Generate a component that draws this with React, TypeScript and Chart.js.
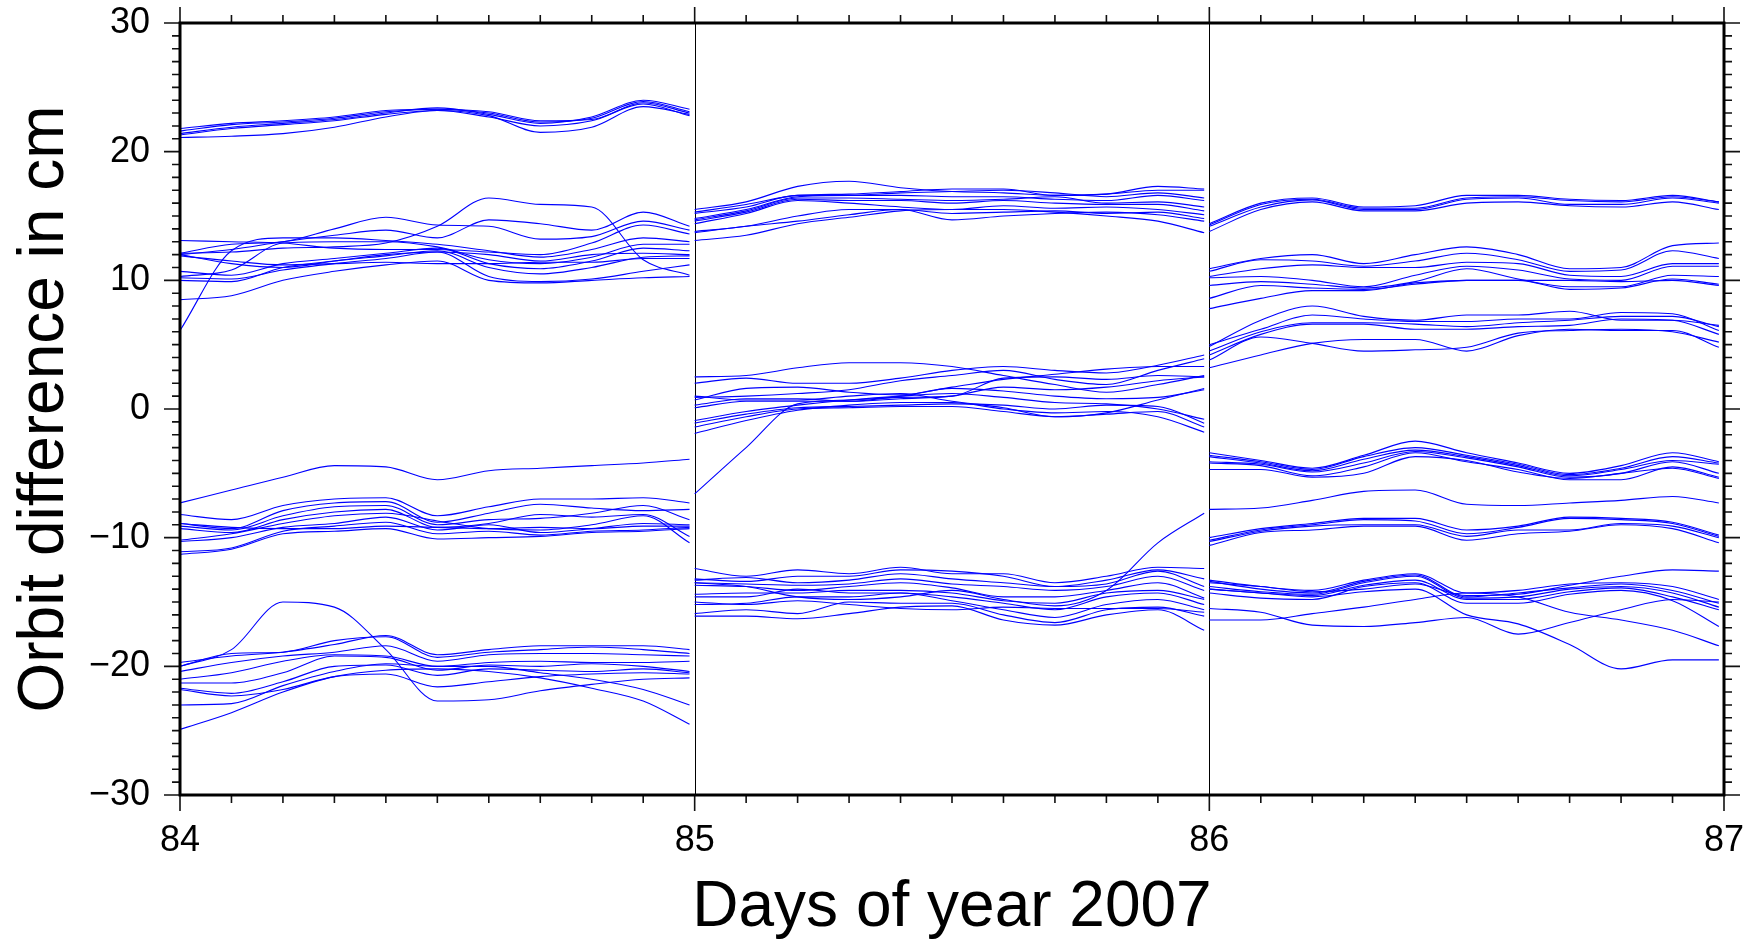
import React, { useEffect, useRef } from 'react';
import { Chart, registerables } from 'chart.js';

Chart.register(...registerables);

// ---- axis definitions ----
const xMin = 84;
const xMax = 87;
const yMin = -30;
const yMax = 30;
const xAxisTitle = 'Days of year 2007';
const yAxisTitle = 'Orbit difference in cm';
const dayBoundaries = [85, 86];

// sample positions (fraction of the day) of every arc value below
const sampleOffsets = [0, 0.1, 0.2, 0.3, 0.4, 0.5, 0.6, 0.7, 0.8, 0.9, 0.99];

// ---- day 84 arcs ----
const day84Near22 = [
  [21.6, 22.1, 22.3, 22.6, 23.1, 23.3, 23.0, 22.3, 22.6, 23.9, 23.1],
  [21.8, 22.2, 22.4, 22.7, 23.2, 23.3, 23.1, 22.4, 22.5, 23.8, 23.0],
  [21.4, 21.9, 22.2, 22.5, 23.0, 23.4, 22.9, 22.2, 22.7, 24.0, 23.3],
  [21.3, 21.8, 22.1, 22.4, 22.9, 23.2, 22.7, 22.0, 22.4, 23.7, 22.8],
  [21.1, 21.2, 21.4, 21.9, 22.7, 23.2, 22.8, 21.5, 21.9, 23.5, 22.9],
];
const day84Near12 = [
  [12.1, 12.2, 12.5, 12.6, 12.9, 14.2, 16.4, 15.9, 15.7, 11.6, 10.4],
  [6.1, 12.3, 13.3, 13.3, 13.1, 12.8, 12.3, 11.8, 12.4, 13.3, 13.0],
  [8.5, 8.8, 10.0, 10.7, 11.2, 11.5, 10.0, 9.8, 10.0, 10.2, 10.3],
  [10.2, 10.1, 10.8, 11.3, 11.7, 12.2, 10.3, 9.9, 10.1, 10.7, 11.2],
  [13.1, 13.0, 12.9, 12.5, 12.4, 12.4, 12.2, 12.0, 12.9, 14.3, 13.6],
  [12.0, 12.4, 13.0, 13.5, 13.9, 13.3, 14.7, 14.4, 13.9, 15.3, 14.2],
  [12.1, 12.8, 13.0, 14.0, 14.9, 14.3, 14.2, 13.2, 13.4, 14.6, 13.9],
  [10.3, 10.8, 12.9, 13.0, 13.0, 12.6, 11.6, 11.3, 11.8, 12.8, 12.8],
  [10.7, 10.4, 11.3, 11.7, 12.1, 12.5, 11.3, 10.9, 11.5, 12.5, 12.3],
  [10.0, 9.9, 11.0, 11.5, 11.9, 12.3, 11.0, 10.5, 11.0, 11.8, 11.9],
  [12.0, 11.3, 11.0, 11.5, 12.0, 12.2, 12.0, 11.5, 12.0, 12.1, 12.0],
  [11.9, 11.5, 11.2, 11.3, 11.4, 11.3, 11.3, 11.4, 11.4, 11.7, 11.7],
];
const day84Near5 = [
  [-7.3, -6.3, -5.3, -4.4, -4.5, -5.5, -4.8, -4.6, -4.4, -4.2, -3.9],
];
const day84Near9 = [
  [-8.2, -8.6, -7.5, -7.0, -6.9, -8.3, -7.6, -7.0, -7.0, -6.9, -7.3],
  [-8.9, -9.3, -7.9, -7.3, -7.2, -8.8, -8.1, -7.4, -7.7, -7.9, -7.8],
  [-9.1, -9.4, -8.3, -7.6, -7.5, -9.0, -8.6, -8.5, -8.1, -7.5, -8.6],
  [-9.3, -9.6, -8.6, -8.0, -7.8, -9.2, -8.9, -8.2, -8.4, -8.2, -9.9],
  [-10.2, -9.7, -8.9, -8.3, -8.1, -8.7, -9.3, -9.4, -9.0, -8.3, -10.4],
  [-10.3, -10.0, -9.2, -8.9, -8.4, -9.4, -9.0, -9.6, -9.3, -8.9, -9.0],
  [-11.1, -10.8, -9.5, -9.1, -8.8, -9.7, -9.5, -9.8, -9.5, -9.4, -9.2],
  [-11.3, -10.9, -9.7, -9.5, -9.3, -10.1, -10.0, -9.9, -9.6, -9.5, -9.3],
  [-8.9, -9.2, -9.3, -9.3, -9.1, -9.2, -9.3, -9.2, -9.3, -9.1, -9.1],
];
const day84Near20 = [
  [-20.0, -18.7, -15.0, -15.4, -18.7, -22.7, -22.6, -21.9, -21.4, -21.0, -20.9],
  [-24.9, -23.6, -22.0, -20.8, -20.3, -20.2, -20.4, -20.9, -21.7, -22.7, -24.5],
  [-23.0, -22.9, -21.5, -20.4, -19.8, -20.0, -20.0, -20.5, -21.0, -21.8, -23.0],
  [-19.7, -19.2, -18.9, -18.3, -17.6, -19.1, -18.7, -18.4, -18.4, -18.4, -18.7],
  [-20.0, -19.0, -18.9, -18.0, -17.7, -19.3, -18.9, -18.7, -18.5, -18.7, -19.0],
  [-20.4, -19.7, -19.2, -18.9, -18.4, -19.6, -19.1, -19.0, -19.0, -19.1, -19.2],
  [-21.0, -20.5, -19.6, -19.1, -19.2, -20.0, -19.7, -19.6, -19.7, -19.7, -19.6],
  [-21.3, -21.3, -20.5, -19.2, -19.3, -20.3, -19.9, -20.0, -19.8, -20.0, -20.4],
  [-21.7, -22.1, -21.2, -20.0, -19.9, -20.7, -20.2, -20.3, -20.4, -20.2, -20.5],
  [-21.8, -22.3, -21.8, -20.8, -20.6, -21.6, -21.2, -20.8, -20.6, -20.5, -20.6],
];

// ---- day 85 arcs ----
const day85Near16 = [
  [15.5, 16.1, 17.3, 17.7, 17.2, 16.9, 16.8, 16.6, 16.7, 17.3, 17.1],
  [15.3, 15.9, 16.6, 16.7, 16.9, 17.1, 17.1, 16.6, 16.7, 17.0, 17.0],
  [15.2, 15.7, 16.6, 16.6, 16.8, 16.9, 17.0, 16.8, 16.5, 16.8, 16.4],
  [14.8, 15.5, 16.5, 16.6, 16.6, 16.5, 16.5, 16.3, 16.2, 16.6, 16.2],
  [14.7, 15.4, 16.4, 16.4, 16.3, 16.2, 16.3, 16.5, 16.0, 16.1, 15.7],
  [14.6, 15.3, 16.3, 16.2, 16.2, 16.0, 16.2, 16.0, 15.9, 15.9, 15.4],
  [14.4, 15.2, 16.2, 16.0, 15.7, 15.5, 15.8, 15.6, 15.7, 15.5, 15.1],
  [13.8, 14.2, 15.0, 15.5, 15.5, 15.2, 15.3, 15.4, 15.2, 15.3, 14.8],
  [13.7, 14.2, 14.6, 15.1, 15.5, 14.7, 15.0, 15.2, 15.3, 15.1, 14.6],
  [13.1, 13.5, 14.4, 14.9, 15.4, 15.5, 15.5, 15.3, 15.0, 14.6, 13.7],
];
const day85Near1 = [
  [-6.6, -3.0, 0.4, 0.7, 0.9, 1.0, 2.4, 2.5, 2.3, 2.6, 2.5],
  [2.5, 2.6, 3.2, 3.6, 3.6, 3.3, 2.6, 1.9, 1.3, 1.9, 2.6],
  [2.0, 2.4, 2.0, 2.0, 2.4, 3.0, 3.3, 3.0, 2.8, 3.4, 4.2],
  [0.9, 1.0, 1.2, 1.5, 2.2, 2.6, 3.0, 2.3, 1.9, 3.0, 3.9],
  [0.7, 1.6, 1.7, 1.3, 1.1, 1.7, 2.3, 2.7, 3.1, 3.3, 3.3],
  [0.3, 0.8, 0.8, 0.6, 0.8, 1.0, 1.7, 1.5, 1.7, 2.2, 2.5],
  [0.1, 0.6, 0.6, 0.6, 1.0, 1.6, 1.4, 1.0, 0.8, 0.9, 1.5],
  [-0.9, -0.2, 0.3, 0.7, 1.0, 1.2, 0.9, 0.5, 0.4, 0.0, -0.8],
  [-1.1, -0.4, 0.1, 0.2, 0.3, 0.4, 0.3, 0.0, 0.3, 0.2, -1.1],
  [-1.4, -0.6, 0.0, 0.1, 0.2, 0.2, -0.2, -0.6, -0.4, -0.2, -1.4],
  [-1.9, -0.9, -0.1, 0.3, 0.5, 0.5, 0.0, -0.3, -0.2, -0.6, -1.8],
  [1.0, 0.7, 0.7, 1.0, 1.2, 0.6, 0.1, -0.6, -0.3, 0.7, 1.6],
];
const day85Near14 = [
  [-13.5, -13.8, -14.6, -14.8, -14.6, -14.1, -14.8, -15.3, -14.1, -10.4, -8.1],
  [-12.4, -13.0, -12.5, -12.8, -12.3, -12.8, -12.8, -13.5, -13.0, -12.3, -12.4],
  [-13.2, -13.4, -13.0, -13.0, -12.5, -12.6, -13.0, -13.8, -13.3, -12.5, -13.2],
  [-13.3, -13.1, -13.5, -13.3, -12.8, -13.2, -13.5, -13.8, -13.6, -12.6, -13.8],
  [-13.5, -13.6, -13.7, -13.6, -13.2, -13.6, -13.8, -14.1, -13.8, -13.0, -14.1],
  [-13.7, -13.8, -14.1, -13.8, -13.5, -13.9, -14.6, -14.6, -14.1, -13.5, -14.7],
  [-14.4, -14.3, -14.3, -14.1, -14.1, -14.3, -14.9, -15.1, -14.3, -14.1, -14.8],
  [-14.6, -14.6, -14.0, -14.3, -14.3, -14.6, -15.1, -15.6, -14.6, -14.3, -15.2],
  [-15.2, -15.1, -14.6, -14.6, -14.3, -14.9, -15.6, -16.2, -15.2, -14.8, -15.6],
  [-15.9, -15.6, -15.9, -15.0, -15.1, -15.1, -16.0, -16.6, -15.6, -15.4, -16.1],
  [-16.1, -16.1, -16.3, -15.9, -15.4, -15.3, -16.4, -16.8, -16.0, -15.6, -17.2],
  [-15.0, -15.2, -14.9, -15.2, -15.5, -15.6, -15.4, -15.5, -15.5, -15.5, -15.8],
];

// ---- day 86 arcs ----
const day86Near16 = [
  [14.4, 16.0, 16.4, 15.7, 15.8, 16.6, 16.6, 16.3, 16.2, 16.6, 16.1],
  [14.3, 15.9, 16.3, 15.6, 15.6, 16.4, 16.5, 16.2, 16.1, 16.5, 16.1],
  [14.2, 15.7, 16.25, 15.5, 15.5, 16.3, 16.4, 15.9, 15.9, 16.4, 16.0],
  [13.8, 15.5, 16.1, 15.4, 15.4, 16.0, 16.1, 15.8, 15.7, 16.1, 15.5],
];
const day86Near11 = [
  [10.9, 11.7, 12.0, 11.3, 12.0, 12.6, 12.0, 10.9, 11.0, 12.7, 12.9],
  [10.7, 11.6, 11.5, 11.1, 11.5, 12.1, 11.6, 10.7, 10.8, 12.3, 11.7],
  [10.3, 10.9, 11.2, 11.0, 11.0, 11.4, 11.3, 10.4, 10.3, 11.3, 11.3],
  [10.2, 10.3, 10.0, 9.5, 10.4, 11.1, 10.8, 10.1, 10.0, 11.1, 11.1],
  [9.6, 9.9, 9.7, 9.4, 9.9, 10.9, 10.1, 9.5, 9.5, 10.4, 10.3],
  [8.6, 9.6, 9.4, 9.3, 9.7, 10.0, 10.0, 9.3, 9.4, 10.1, 9.7],
  [7.8, 8.6, 9.2, 9.2, 9.8, 10.0, 10.0, 10.0, 9.9, 10.0, 9.6],
];
const day86Near6 = [
  [4.85, 6.9, 8.0, 7.2, 6.9, 7.3, 7.3, 7.6, 6.9, 6.9, 6.5],
  [5.0, 6.2, 7.3, 7.0, 6.8, 6.8, 7.0, 7.0, 7.5, 7.4, 6.1],
  [4.5, 6.0, 6.7, 6.7, 6.6, 6.4, 6.7, 6.9, 7.2, 7.2, 6.4],
  [4.2, 5.8, 6.6, 6.6, 6.2, 6.2, 6.4, 6.5, 7.0, 6.9, 5.8],
  [3.8, 5.6, 5.1, 4.5, 4.6, 4.8, 5.9, 6.1, 6.2, 6.0, 5.2],
  [3.2, 4.2, 5.1, 5.4, 5.4, 4.5, 5.7, 6.2, 6.1, 6.1, 4.8],
];
const day86Near4 = [
  [-3.4, -4.0, -4.6, -3.6, -2.5, -3.4, -4.2, -5.0, -4.4, -3.4, -4.1],
  [-3.6, -4.1, -4.7, -3.7, -3.0, -3.6, -4.3, -5.1, -4.6, -3.7, -4.2],
  [-3.7, -4.2, -4.8, -3.9, -3.2, -3.7, -4.4, -5.2, -4.7, -4.0, -4.3],
  [-4.1, -4.3, -4.9, -4.2, -3.3, -3.8, -4.5, -5.3, -5.0, -4.1, -5.0],
  [-4.2, -4.4, -5.2, -4.5, -3.4, -4.1, -4.7, -5.5, -5.5, -4.5, -5.3],
  [-4.7, -4.7, -5.3, -5.0, -3.7, -4.0, -4.9, -5.4, -5.0, -4.6, -5.4],
];
const day86Near7 = [
  [-7.8, -7.7, -7.1, -6.4, -6.3, -7.4, -7.5, -7.3, -7.1, -6.8, -7.3],
];
const day86Near9 = [
  [-10.0, -9.3, -8.9, -8.5, -8.5, -9.4, -9.1, -8.4, -8.5, -8.8, -9.8],
  [-10.2, -9.4, -9.0, -8.6, -8.7, -9.7, -9.2, -8.5, -8.6, -8.9, -9.9],
  [-10.3, -9.5, -9.1, -9.0, -9.0, -9.9, -9.4, -9.4, -8.9, -9.1, -10.0],
  [-10.6, -9.6, -9.4, -9.1, -9.1, -10.2, -9.7, -9.5, -9.0, -9.3, -10.4],
];
const day86Near15 = [
  [-13.5, -13.8, -14.2, -14.0, -13.6, -14.5, -14.4, -13.7, -13.0, -12.5, -12.6],
  [-13.3, -13.8, -14.1, -13.3, -12.8, -14.3, -14.1, -13.6, -13.5, -13.8, -14.8],
  [-13.4, -14.0, -14.3, -13.4, -12.9, -14.6, -14.3, -13.9, -13.6, -14.1, -15.1],
  [-13.8, -14.2, -14.4, -13.5, -13.0, -14.7, -14.6, -14.0, -13.8, -14.3, -15.4],
  [-14.0, -14.3, -14.5, -13.7, -13.3, -14.8, -14.8, -14.2, -13.9, -14.6, -15.6],
  [-14.3, -14.7, -14.8, -13.8, -13.5, -15.1, -15.1, -14.4, -14.1, -14.9, -16.9],
  [-15.5, -15.8, -16.8, -16.9, -16.6, -16.2, -17.5, -16.6, -15.6, -14.8, -15.0],
  [-16.4, -16.4, -15.9, -15.4, -14.8, -14.3, -14.6, -15.8, -16.4, -17.2, -18.4],
  [-14.0, -14.3, -14.6, -14.2, -14.0, -16.0, -16.7, -18.3, -20.2, -19.5, -19.5],
];

const dayArcs: { start: number; groups: number[][][] }[] = [
  { start: 84, groups: [day84Near22, day84Near12, day84Near5, day84Near9, day84Near20] },
  { start: 85, groups: [day85Near16, day85Near1, day85Near14] },
  { start: 86, groups: [day86Near16, day86Near11, day86Near6, day86Near4, day86Near7, day86Near9, day86Near15] },
];

const FONT = '"Liberation Sans", Arial, Helvetica, sans-serif';
const LINE_BLUE = '#0000ff';

function fmtTick(v: number): string {
  return v < 0 ? '\u2212' + Math.abs(v) : String(v);
}

function zeroScalePadding(scale: any) {
  scale.paddingTop = 0;
  scale.paddingBottom = 0;
  scale.paddingLeft = 0;
  scale.paddingRight = 0;
}

const frameTicksPlugin = {
  id: 'frameTicks',
  beforeDatasetsDraw(chart: any) {
    const { ctx, chartArea: a, scales } = chart;
    const x = scales.x;
    ctx.save();
    ctx.strokeStyle = '#000';
    ctx.lineWidth = 1;
    for (const d of dayBoundaries) {
      const px = Math.round(x.getPixelForValue(d)) + 0.5;
      ctx.beginPath();
      ctx.moveTo(px, a.top);
      ctx.lineTo(px, a.bottom);
      ctx.stroke();
    }
    ctx.restore();
  },
  afterDatasetsDraw(chart: any) {
    const { ctx, chartArea: a, scales } = chart;
    const x = scales.x;
    const y = scales.y;
    ctx.save();
    ctx.strokeStyle = '#111';
    ctx.lineWidth = 1.6;
    const nx = Math.round((xMax - xMin) * 10);
    for (let i = 0; i <= nx; i++) {
      const v = xMin + i / 10;
      const px = x.getPixelForValue(v);
      const len = i % 10 === 0 ? 16 : 8;
      ctx.beginPath();
      ctx.moveTo(px, a.bottom);
      ctx.lineTo(px, a.bottom + len);
      ctx.moveTo(px, a.top);
      ctx.lineTo(px, a.top - len);
      ctx.stroke();
    }
    for (let v = yMin; v <= yMax; v++) {
      const py = y.getPixelForValue(v);
      const len = v % 10 === 0 ? 16 : 8;
      ctx.beginPath();
      ctx.moveTo(a.left, py);
      ctx.lineTo(a.left - len, py);
      ctx.moveTo(a.right, py);
      ctx.lineTo(a.right + len, py);
      ctx.stroke();
    }
    ctx.strokeStyle = '#000';
    ctx.lineWidth = 3;
    ctx.strokeRect(a.left, a.top, a.right - a.left, a.bottom - a.top);
    ctx.restore();
  },
};

export default function App() {
  const canvasRef = useRef<HTMLCanvasElement>(null);

  useEffect(() => {
    if (!canvasRef.current) return;
    const datasets: any[] = [];
    dayArcs.forEach((day) => {
      day.groups.forEach((group) => {
        group.forEach((arc) => {
          datasets.push({
            data: arc.map((v, i) => ({ x: day.start + sampleOffsets[i], y: v })),
            borderColor: LINE_BLUE,
            borderWidth: 1.1,
            pointRadius: 0,
            fill: false,
            cubicInterpolationMode: 'monotone',
          });
        });
      });
    });

    const chart = new Chart(canvasRef.current, {
      type: 'line',
      data: { datasets },
      options: {
        animation: false,
        responsive: false,
        devicePixelRatio: 1,
        layout: { padding: { left: 0, right: 30, top: 23, bottom: 0 } },
        plugins: {
          legend: { display: false },
          tooltip: { enabled: false },
        },
        scales: {
          x: {
            type: 'linear',
            min: xMin,
            max: xMax,
            grid: {
              display: true,
              drawOnChartArea: false,
              drawTicks: true,
              tickLength: 24,
              color: 'rgba(0,0,0,0)',
              tickColor: 'rgba(0,0,0,0)',
            },
            border: { display: false },
            ticks: {
              stepSize: 1,
              autoSkip: false,
              maxRotation: 0,
              padding: 0,
              color: '#000',
              font: { family: FONT, size: 36 },
              callback: (v: any) => fmtTick(Number(v)),
            },
            title: {
              display: true,
              text: xAxisTitle,
              color: '#000',
              font: { family: FONT, size: 64 },
              padding: { top: 0, bottom: -8 },
            },
            afterFit: (scale: any) => {
              scale.height = 144;
              zeroScalePadding(scale);
            },
          },
          y: {
            type: 'linear',
            min: yMin,
            max: yMax,
            grid: {
              display: true,
              drawOnChartArea: false,
              drawTicks: true,
              tickLength: 30,
              color: 'rgba(0,0,0,0)',
              tickColor: 'rgba(0,0,0,0)',
            },
            border: { display: false },
            ticks: {
              stepSize: 10,
              padding: 0,
              color: '#000',
              font: { family: FONT, size: 36 },
              callback: (v: any) => fmtTick(Number(v)),
            },
            title: {
              display: true,
              text: yAxisTitle,
              color: '#000',
              font: { family: FONT, size: 64 },
              padding: { top: 7, bottom: 0 },
            },
            afterFit: (scale: any) => {
              scale.width = 180;
              zeroScalePadding(scale);
            },
          },
        },
      },
      plugins: [frameTicksPlugin],
    } as any);

    return () => chart.destroy();
  }, []);

  return (
    <div style={{ position: 'absolute', left: 0, top: 0, width: 1754, height: 939, background: '#fff' }}>
      <canvas ref={canvasRef} width={1754} height={939} style={{ display: 'block', width: 1754, height: 939 }} />
    </div>
  );
}
